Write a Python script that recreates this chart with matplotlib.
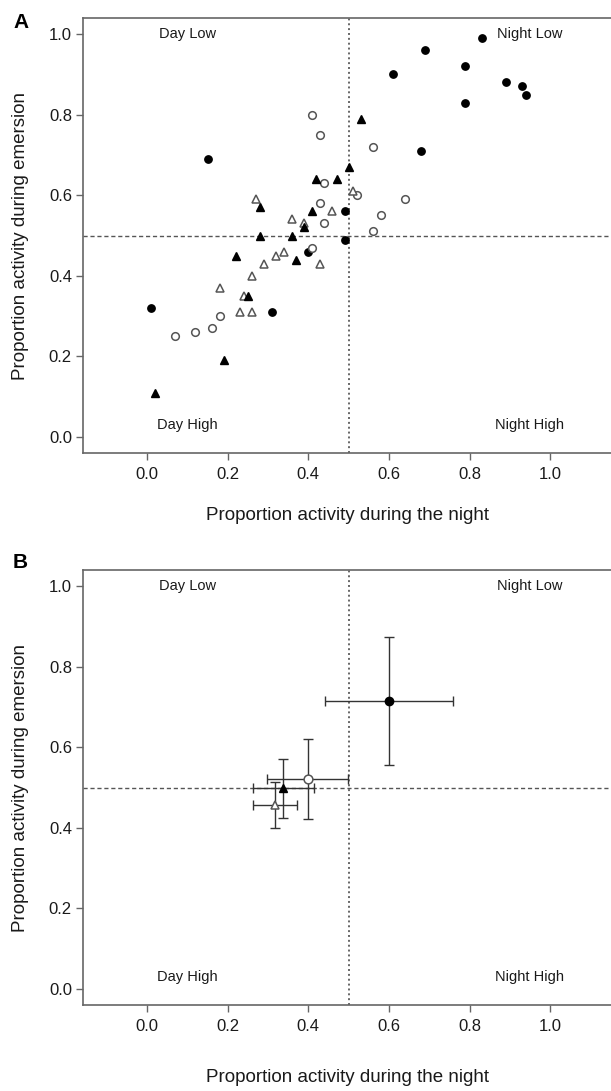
import matplotlib
matplotlib.use('Agg')
import matplotlib.pyplot as plt

plt.rcParams['font.family'] = ['Liberation Sans', 'DejaVu Sans']

# panel A: individual points (night proportion, emersion proportion)
filled_circle_x = [0.15, 0.83, 0.69, 0.79, 0.61, 0.89, 0.93, 0.94, 0.79, 0.68, 0.49, 0.49, 0.40, 0.31, 0.01]
filled_circle_y = [0.69, 0.99, 0.96, 0.92, 0.90, 0.88, 0.87, 0.85, 0.83, 0.71, 0.56, 0.49, 0.46, 0.31, 0.32]

open_circle_x = [0.41, 0.43, 0.44, 0.43, 0.52, 0.56, 0.64, 0.58, 0.56, 0.44, 0.41, 0.18, 0.16, 0.12, 0.07]
open_circle_y = [0.80, 0.75, 0.63, 0.58, 0.60, 0.72, 0.59, 0.55, 0.51, 0.53, 0.47, 0.30, 0.27, 0.26, 0.25]

filled_tri_x = [0.53, 0.50, 0.42, 0.47, 0.28, 0.41, 0.39, 0.36, 0.28, 0.22, 0.37, 0.25, 0.19, 0.02]
filled_tri_y = [0.79, 0.67, 0.64, 0.64, 0.57, 0.56, 0.52, 0.50, 0.50, 0.45, 0.44, 0.35, 0.19, 0.11]

open_tri_x = [0.27, 0.51, 0.46, 0.36, 0.39, 0.34, 0.32, 0.29, 0.43, 0.26, 0.18, 0.24, 0.23, 0.26]
open_tri_y = [0.59, 0.61, 0.56, 0.54, 0.53, 0.46, 0.45, 0.43, 0.43, 0.40, 0.37, 0.35, 0.31, 0.31]

# panel B: group means with symmetric errors
mean_x = [0.60, 0.398, 0.338, 0.318]
mean_y = [0.715, 0.521, 0.498, 0.457]
err_x = [0.158, 0.101, 0.075, 0.054]
err_y = [0.158, 0.099, 0.073, 0.057]
mean_marker = ['o', 'o', '^', '^']
mean_filled = [True, False, True, False]

ticks = [0.0, 0.2, 0.4, 0.6, 0.8, 1.0]
quadrants = [('Day Low', 0.1, 1.0), ('Night Low', 0.95, 1.0),
             ('Day High', 0.1, 0.03), ('Night High', 0.95, 0.03)]

W, H = 611, 1091
fig = plt.figure(figsize=(W / 100, H / 100), dpi=100)

spine_col = '#666666'
edge_col = '#555555'
text_col = '#1a1a1a'


def setup(ax, xlab_y):
    ax.set_xlim(-0.159, 1.151)
    ax.set_ylim(-0.04, 1.04)
    ax.set_xticks(ticks)
    ax.set_yticks(ticks)
    ax.set_xticklabels(['%.1f' % t for t in ticks])
    ax.set_yticklabels(['%.1f' % t for t in ticks])
    ax.spines['right'].set_visible(False)
    for s in ['left', 'top', 'bottom']:
        ax.spines[s].set_color(spine_col)
        ax.spines[s].set_linewidth(1.2)
    ax.tick_params(axis='both', length=5, width=1, color=spine_col,
                   labelsize=12, labelcolor=text_col)
    ax.tick_params(axis='x', pad=5)
    ax.tick_params(axis='y', pad=3)
    ax.axhline(0.5, color='#555555', lw=1, ls=(0, (3, 2)), zorder=1)
    ax.axvline(0.5, color='#666666', lw=1.4, ls=(0, (1, 1.5)), zorder=1)
    for txt, x, y in quadrants:
        ax.text(x, y, txt, ha='center', va='center', fontsize=10.5, color=text_col)
    ax.set_xlabel('Proportion activity during the night', fontsize=13.5, color=text_col)
    ax.set_ylabel('Proportion activity during emersion', fontsize=13.5, color=text_col)
    ax.xaxis.set_label_coords(0.5, xlab_y)
    ax.xaxis.label.set_va('center')
    ax.yaxis.set_label_coords(-0.119, 0.5)
    ax.yaxis.label.set_va('center')


axA = fig.add_axes([83 / W, 1 - 453 / H, 1 - 83 / W, 435 / H])
setup(axA, -62 / 435)
axA.plot(filled_circle_x, filled_circle_y, 'o', ms=5.3, color='black', zorder=3)
axA.plot(open_circle_x, open_circle_y, 'o', ms=5.5, mfc='white', mec=edge_col, mew=1.1, zorder=3)
axA.plot(open_tri_x, open_tri_y, '^', ms=6.3, mfc='white', mec=edge_col, mew=1.1, zorder=3)
axA.plot(filled_tri_x, filled_tri_y, '^', ms=6, color='black', zorder=4)

axB = fig.add_axes([83 / W, 1 - 1005 / H, 1 - 83 / W, 435 / H])
setup(axB, -72 / 435)
for i in range(len(mean_x)):
    axB.errorbar(mean_x[i], mean_y[i], xerr=err_x[i], yerr=err_y[i], fmt='none',
                 ecolor='#333333', elinewidth=1, capsize=3.6, capthick=1, zorder=2)
    if mean_filled[i]:
        axB.plot(mean_x[i], mean_y[i], mean_marker[i], ms=6, color='black', zorder=3)
    else:
        axB.plot(mean_x[i], mean_y[i], mean_marker[i], ms=6.3, mfc='white', mec=edge_col, mew=1.1, zorder=3)

fig.text(21 / W, 1 - 22 / H, 'A', fontsize=15, fontweight='bold', ha='center', va='center')
fig.text(20 / W, 1 - 562 / H, 'B', fontsize=15, fontweight='bold', ha='center', va='center')

fig.savefig('out.png', dpi=100)
